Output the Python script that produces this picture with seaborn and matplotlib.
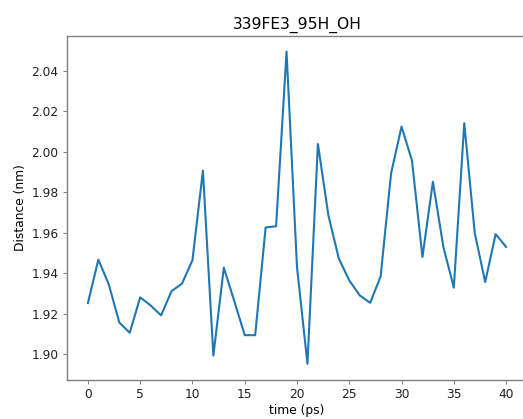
import matplotlib
matplotlib.use("Agg")
import matplotlib.pyplot as plt
import seaborn as sns
import pandas as pd

time_ps = list(range(41))
distance_nm = [1.9252, 1.9467, 1.9344, 1.9156, 1.9105, 1.9280, 1.9240, 1.9191, 1.9311, 1.9348,
               1.9464, 1.9907, 1.8992, 1.9427, 1.9262, 1.9093, 1.9093, 1.9626, 1.9632, 2.0496,
               1.9430, 1.8951, 2.0039, 1.9687, 1.9472, 1.9364, 1.9290, 1.9253, 1.9384, 1.9894,
               2.0125, 1.9956, 1.9480, 1.9852, 1.9530, 1.9328, 2.0142, 1.9599, 1.9356, 1.9593,
               1.9530]
title = "339FE3_95H_OH"

df = pd.DataFrame({"time": time_ps, "distance": distance_nm})

fig = plt.figure(figsize=(5.23, 4.19), dpi=100)
ax = fig.add_axes([67 / 523, 1 - 379.5 / 419, (527 - 67) / 523, (379.5 - 36) / 419])
sns.lineplot(data=df, x="time", y="distance", ax=ax, color="#1f77b4", linewidth=1.5)

ax.set_title(title, fontsize=11.2, pad=5.5)
ax.set_xlabel("time (ps)", fontsize=8.8, labelpad=2.5)
ax.set_ylabel("Distance (nm)", fontsize=8.8, labelpad=3)
ax.set_xticks([0, 5, 10, 15, 20, 25, 30, 35, 40])
for s in ax.spines.values():
    s.set_color("#808080")
    s.set_linewidth(1.0)
ax.tick_params(colors="#808080", labelcolor="#222222", labelsize=8.8, length=3, width=0.8, pad=3)

fig.savefig("out.png", dpi=100)
